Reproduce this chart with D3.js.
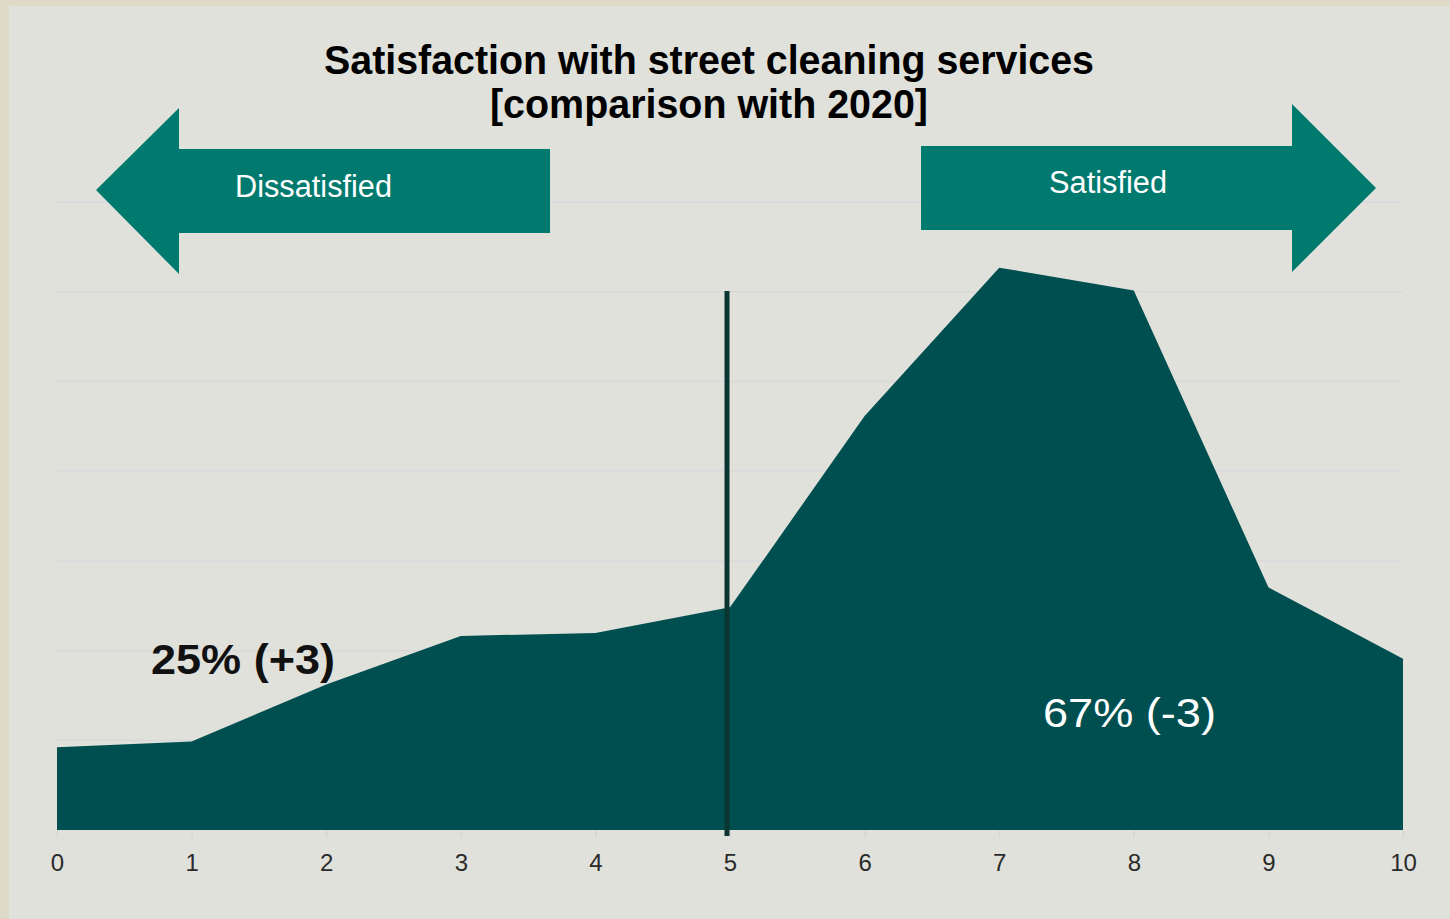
<!DOCTYPE html>
<html><head><meta charset="utf-8">
<script src="https://cdn.jsdelivr.net/npm/d3@7"></script>
<style>html,body{margin:0;padding:0;background:#dfd9c8;}svg{display:block;}</style>
</head><body>
<svg id="c" width="1450" height="919"></svg>
<script>
const scores = [0,1,2,3,4,5,6,7,8,9,10];
const shares = [2.9, 3.1, 5.1, 6.8, 6.9, 7.8, 14.5, 19.7, 18.9, 8.5, 6.0];
const gridValues = [0, 3.143, 6.286, 9.429, 12.571, 15.714, 18.857, 22];
const titleLines = ["Satisfaction with street cleaning services", "[comparison with 2020]"];
const arrowLabels = ["Dissatisfied", "Satisfied"];
const groupLabels = ["25% (+3)", "67% (-3)"];
const neutralScore = 5;

const FONT = "Liberation Sans, Arial, sans-serif";
const svg = d3.select("#c");
svg.append("rect").attr("x",9).attr("y",6).attr("width",1441).attr("height",913).attr("fill","#e0e1da");

const x = d3.scaleLinear().domain([0,10]).range([57,1403]);
const y = d3.scaleLinear().domain([0,22]).range([830,202]);

// gridlines
svg.append("g").selectAll("line").data(gridValues.slice(1)).join("line")
  .attr("x1",x(0)).attr("x2",x(10)).attr("y1",d=>y(d)).attr("y2",d=>y(d))
  .attr("stroke","#d8d8dc").attr("stroke-width",1.3);

// area
const area = d3.area().x((d,i)=>x(scores[i])).y0(y(0)).y1(d=>y(d)).curve(d3.curveLinear);
svg.append("path").datum(shares).attr("d",area).attr("fill","#004f50");

// x axis
const ax = svg.append("g").attr("transform",`translate(0,${y(0)})`)
  .call(d3.axisBottom(x).tickValues(scores).tickFormat(d3.format("d")).tickSize(8).tickPadding(16));
ax.select(".domain").remove();
ax.selectAll(".tick line").attr("stroke","#d3d4d0").attr("stroke-width",1.2);
ax.selectAll(".tick text").attr("font-family",FONT).attr("font-size",24).attr("fill","#2a2a2a");

// neutral line
svg.append("line").attr("x1",x(neutralScore)-3).attr("x2",x(neutralScore)-3)
  .attr("y1",291).attr("y2",y(0)+6).attr("stroke","#0b3530").attr("stroke-width",5);

// arrows
const arrowColor = "#007a6e";
const leftArrow = [[96,190],[179,108],[179,149],[550,149],[550,233],[179,233],[179,274]];
const rightArrow = [[921,146],[1292,146],[1292,104],[1376,188],[1292,272],[1292,230],[921,230]];
svg.append("path").attr("d", d3.line()(leftArrow)+"Z").attr("fill",arrowColor);
svg.append("path").attr("d", d3.line()(rightArrow)+"Z").attr("fill",arrowColor);

function label(tx, ty, text, size, weight, fill, len) {
  svg.append("text").attr("x",tx).attr("y",ty).attr("text-anchor","middle")
    .attr("font-family",FONT).attr("font-weight",weight).attr("font-size",size)
    .attr("fill",fill).attr("textLength",len).attr("lengthAdjust","spacingAndGlyphs").text(text);
}
label(313.5, 197, arrowLabels[0], 31, "normal", "#ffffff", 157);
label(1108, 193, arrowLabels[1], 31, "normal", "#ffffff", 118);

label(709, 74, titleLines[0], 40, "bold", "#000", 770);
label(709, 118, titleLines[1], 40, "bold", "#000", 438);

label(243, 674, groupLabels[0], 43, "bold", "#111", 184);
label(1129.5, 727, groupLabels[1], 40, "normal", "#ffffff", 173);
</script>
</body></html>
